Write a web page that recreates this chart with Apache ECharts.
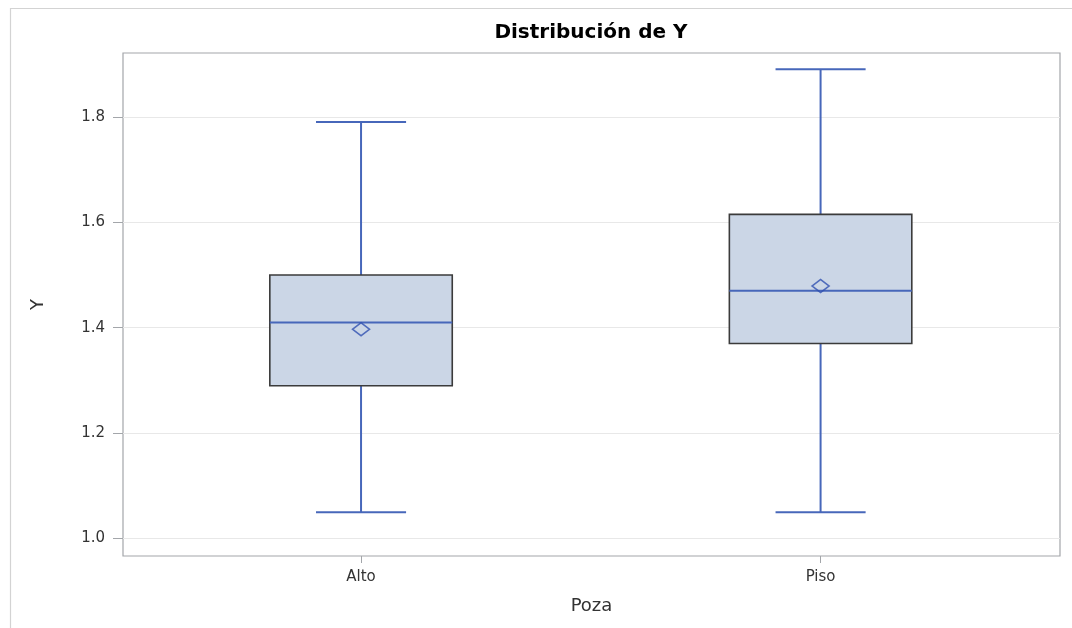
<!DOCTYPE html>
<html>
<head>
<meta charset="utf-8">
<script src="https://cdn.jsdelivr.net/npm/echarts@6/dist/echarts.min.js"></script>
<style>
  html, body { margin: 0; padding: 0; background: #fff; }
  #chart { width: 1072px; height: 628px; }
</style>
</head>
<body>
<div id="chart"></div>
<script>
// Box-plot summary of Y for each Poza group
const categories = ['Alto', 'Piso'];
const whiskerLow = [1.05, 1.05];
const q1 = [1.29, 1.37];
const median = [1.41, 1.47];
const q3 = [1.50, 1.615];
const whiskerHigh = [1.79, 1.89];
const means = [1.397, 1.479];
const yTicks = [1.0, 1.2, 1.4, 1.6, 1.8];

const FONT = '"DejaVu Sans", Verdana, sans-serif';
const BOX_WIDTH = 0.397;   // box width in category units
const CAP_WIDTH = 0.196;   // whisker cap width in category units

const boxData = categories.map((c, i) => [i, whiskerLow[i], q1[i], median[i], q3[i], whiskerHigh[i]]);
const meanData = categories.map((c, i) => [i, means[i]]);

function renderBox(params, api) {
  const x = api.value(0);
  const pLow = api.coord([x, api.value(1)]);
  const pQ1 = api.coord([x, api.value(2)]);
  const pMed = api.coord([x, api.value(3)]);
  const pQ3 = api.coord([x, api.value(4)]);
  const pHigh = api.coord([x, api.value(5)]);
  const unit = api.size([1, 0])[0];
  const bh = unit * BOX_WIDTH / 2;
  const ch = unit * CAP_WIDTH / 2;
  const blue = { stroke: '#4767ba', lineWidth: 2 };
  return {
    type: 'group',
    children: [
      { type: 'line', shape: { x1: pQ3[0], y1: pQ3[1], x2: pHigh[0], y2: pHigh[1] }, style: blue },
      { type: 'line', shape: { x1: pQ1[0], y1: pQ1[1], x2: pLow[0], y2: pLow[1] }, style: blue },
      { type: 'line', shape: { x1: pHigh[0] - ch, y1: pHigh[1], x2: pHigh[0] + ch, y2: pHigh[1] }, style: blue },
      { type: 'line', shape: { x1: pLow[0] - ch, y1: pLow[1], x2: pLow[0] + ch, y2: pLow[1] }, style: blue },
      { type: 'rect', shape: { x: pQ3[0] - bh, y: pQ3[1], width: bh * 2, height: pQ1[1] - pQ3[1] },
        style: { fill: '#cbd6e6', stroke: '#3b3b3b', lineWidth: 1.6 } },
      { type: 'line', shape: { x1: pMed[0] - bh, y1: pMed[1], x2: pMed[0] + bh, y2: pMed[1] }, style: blue }
    ]
  };
}

const chart = echarts.init(document.getElementById('chart'), null, { renderer: 'canvas' });
chart.setOption({
  animation: false,
  backgroundColor: '#ffffff',
  graphic: [
    { type: 'rect', shape: { x: 10.5, y: 8.5, width: 1200, height: 800 },
      style: { fill: 'none', stroke: '#d3d3d3', lineWidth: 1.2 }, z: -10 },
    { type: 'text', x: 591, y: 33,
      style: { text: 'Distribución de Y', textAlign: 'center', textVerticalAlign: 'middle',
               font: 'bold 20px ' + FONT, fill: '#000' } }
  ],
  grid: {
    left: 123, right: 12, top: 53, bottom: 72,
    show: true, borderColor: '#a3a6aa', borderWidth: 1.2, backgroundColor: 'transparent'
  },
  xAxis: {
    type: 'value',
    min: -0.518, max: 1.521,
    name: 'Poza', nameLocation: 'middle', nameGap: 41,
    nameTextStyle: { fontFamily: FONT, fontSize: 18, color: '#333' },
    axisLine: { show: false, onZero: false },
    axisTick: { show: true, customValues: [0, 1], length: 7, lineStyle: { color: '#a3a6aa' } },
    axisLabel: { customValues: [0, 1], formatter: v => categories[Math.round(v)] || '',
                 fontFamily: FONT, fontSize: 15, color: '#333', margin: 14 },
    splitLine: { show: false }
  },
  yAxis: {
    type: 'value',
    min: 0.967, max: 1.921,
    name: 'Y', nameLocation: 'middle', nameGap: 76, nameRotate: 90,
    nameTextStyle: { fontFamily: FONT, fontSize: 18, color: '#333' },
    axisLine: { show: false, onZero: false },
    axisTick: { show: true, customValues: yTicks, length: 10, lineStyle: { color: '#a3a6aa' } },
    axisLabel: { customValues: yTicks, formatter: v => v.toFixed(1),
                 fontFamily: FONT, fontSize: 15, color: '#333', margin: 18 },
    splitLine: { show: true, lineStyle: { color: '#e8e8e8', width: 1.2 } }
  },
  series: [
    { type: 'custom', renderItem: renderBox, data: boxData, z: 2,
      encode: { x: 0, y: [1, 2, 3, 4, 5] } },
    { type: 'scatter', data: meanData, symbol: 'diamond', symbolSize: [17, 13], z: 3,
      itemStyle: { color: 'rgba(0,0,0,0)', borderColor: '#2f50b0', borderWidth: 1.6 } }
  ]
});
</script>
</body>
</html>
